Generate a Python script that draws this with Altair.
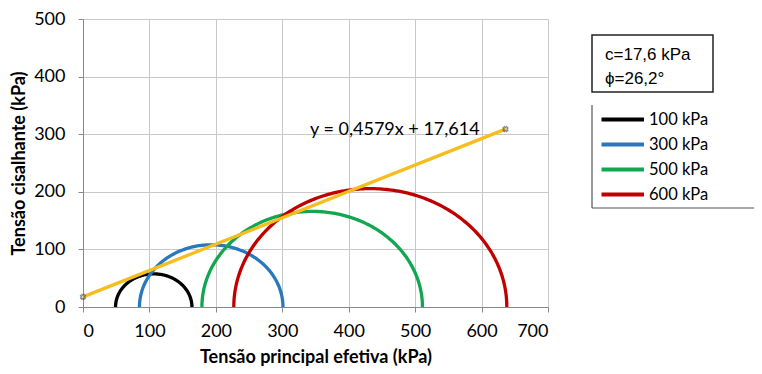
import altair as alt
import numpy as np
import pandas as pd

# Mohr circles: minor / major effective principal stresses (kPa)
series = ["100 kPa", "300 kPa", "500 kPa", "600 kPa"]
sigma3 = [49, 85, 179, 227]
sigma1 = [164, 301, 511, 638]
colors = ["#000000", "#2878BE", "#12A650", "#C00000"]

# Failure envelope (linear trend line)
slope = 0.4579
intercept = 17.614
env_x = [0, 636]
eq_label = "y = 0,4579x + 17,614"
box_lines = ["c=17,6 kPa", "\u03d5=26,2\u00b0"]

rows = []
for s, a, b in zip(series, sigma3, sigma1):
    c = (a + b) / 2
    r = (b - a) / 2
    for i, t in enumerate(np.linspace(np.pi, 0, 181)):
        rows.append({"serie": s, "i": i, "x": c + r * np.cos(t), "y": r * np.sin(t)})
circles = pd.DataFrame(rows)
env = pd.DataFrame({"x": env_x, "y": [slope * v + intercept for v in env_x]})

font = "Lato"
xs = alt.Scale(domain=[0, 700], nice=False)
ys = alt.Scale(domain=[0, 500], nice=False)

circ = alt.Chart(circles).mark_line(strokeWidth=3.3).encode(
    x=alt.X("x:Q", scale=xs, title="Tensão principal efetiva (kPa)",
            axis=alt.Axis(values=list(range(0, 701, 100)), titleY=55,
                          titleBaseline="alphabetic", labelPadding=10)),
    y=alt.Y("y:Q", scale=ys, title="Tensão cisalhante (kPa)",
            axis=alt.Axis(values=list(range(0, 501, 100)), titleX=-64,
                          titleBaseline="middle", labelPadding=13)),
    order="i:Q",
    color=alt.Color("serie:N", scale=alt.Scale(domain=series, range=colors),
                    legend=alt.Legend(title=None, orient="none", legendX=526, legendY=78,
                                      symbolType="M-2.4,0H1", symbolStrokeWidth=4, symbolSize=625,
                                      labelFont=font, labelFontSize=16.5, labelColor="#000",
                                      padding=8, rowPadding=2, labelOffset=3)),
)

line = alt.Chart(env).mark_line(color="#F5BE1E", strokeWidth=3.3).encode(x="x:Q", y="y:Q")
pts = alt.Chart(env).mark_point(shape="cross", angle=45, size=25, color="#555", strokeWidth=1.3).encode(x="x:Q", y="y:Q")

eq = alt.Chart(pd.DataFrame({"t": [eq_label]})).mark_text(
    font=font, fontSize=18, color="#000", align="left", baseline="middle"
).encode(x=alt.value(227), y=alt.value(111), text="t:N")

box = alt.Chart(pd.DataFrame({"a": [0]})).mark_rect(
    fill="white", stroke="#222", strokeWidth=1.5
).encode(x=alt.value(509), x2=alt.value(630), y=alt.value(16), y2=alt.value(73))

boxtext = alt.Chart(pd.DataFrame({"t": box_lines, "yy": [36, 60]})).mark_text(
    font="Liberation Sans", fontSize=17, color="#000", align="left", baseline="middle"
).encode(x=alt.value(522), y=alt.Y("yy:Q", scale=None), text="t:N")

# legend frame (left and bottom edges, as in the reference)
frame_l = alt.Chart(pd.DataFrame({"a": [0]})).mark_rule(color="#555", strokeWidth=1.2).encode(
    x=alt.value(509), y=alt.value(86), y2=alt.value(189))
frame_b = alt.Chart(pd.DataFrame({"a": [0]})).mark_rule(color="#555", strokeWidth=1.2).encode(
    x=alt.value(509), x2=alt.value(700), y=alt.value(189))

chart = alt.layer(circ, line, pts, eq, box, boxtext, frame_l, frame_b).properties(
    width=465, height=288,
    autosize=alt.AutoSizeParams(type="none"),
    padding={"left": 75, "top": 11, "right": 206, "bottom": 59},
).configure_view(stroke=None).configure_axis(
    grid=True, gridColor="#C8C8C8", gridWidth=1,
    domainColor="#888", tickColor="#888", tickSize=5,
    labelFont=font, labelFontSize=18, labelColor="#000",
    titleFont=font, titleFontSize=18, titleColor="#000", titleFontWeight="bold",
)

chart.save("out.html", embed_options={"renderer": "svg", "actions": False})
